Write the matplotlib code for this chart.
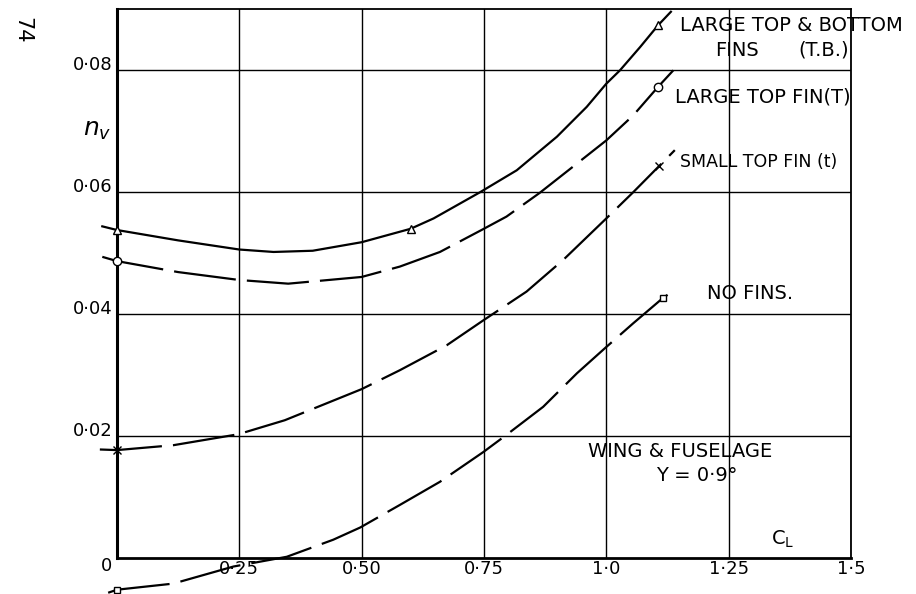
import numpy as np
import matplotlib
matplotlib.use("Agg")
import matplotlib.pyplot as plt

# curves: lift coefficient C_L vs n_v
cl_tb = [-0.03, 0.0, 0.125, 0.25, 0.32, 0.4, 0.5, 0.6, 0.647, 0.742, 0.817, 0.899, 0.96, 1.0, 1.028, 1.069, 1.106, 1.132]
nv_tb = [0.0544, 0.0538, 0.0521, 0.0506, 0.0502, 0.0504, 0.0518, 0.0540, 0.0557, 0.0600, 0.0636, 0.0691, 0.0740, 0.0778, 0.0800, 0.0838, 0.0874, 0.0896]

cl_tl = [-0.03, 0.0, 0.125, 0.25, 0.35, 0.5, 0.578, 0.66, 0.745, 0.796, 0.864, 0.94, 1.0, 1.055, 1.106, 1.137]
nv_tl = [0.0494, 0.0487, 0.0469, 0.0456, 0.0450, 0.0461, 0.0478, 0.0502, 0.0538, 0.0560, 0.0599, 0.0647, 0.0685, 0.0726, 0.0773, 0.0800]

cl_sf = [-0.035, 0.0, 0.115, 0.248, 0.343, 0.5, 0.578, 0.674, 0.749, 0.837, 0.912, 1.0, 1.055, 1.108, 1.14]
nv_sf = [0.0178, 0.0177, 0.0185, 0.0203, 0.0226, 0.0277, 0.0308, 0.0349, 0.0390, 0.0437, 0.0489, 0.0557, 0.0600, 0.0643, 0.0669]

cl_nf = [-0.018, 0.0, 0.115, 0.238, 0.347, 0.442, 0.497, 0.578, 0.66, 0.749, 0.796, 0.871, 0.94, 0.997, 1.055, 1.115, 1.14]
nv_nf = [-0.0057, -0.0052, -0.0042, -0.0014, 0.0002, 0.0030, 0.0050, 0.0087, 0.0125, 0.0174, 0.0202, 0.0248, 0.0303, 0.0344, 0.0385, 0.0426, 0.0440]

# measured points (markers)
pts_tb_cl = [0.0, 0.6, 1.106]
pts_tb_nv = [0.0538, 0.0540, 0.0874]
pts_tl_cl = [0.0, 1.106]
pts_tl_nv = [0.0487, 0.0773]
pts_sf_cl = [0.0, 1.108]
pts_sf_nv = [0.0177, 0.0643]
pts_nf_cl = [0.0, 1.115]
pts_nf_nv = [-0.0052, 0.0426]

x_ticks = [0.25, 0.5, 0.75, 1.0, 1.25, 1.5]
x_labels = ['0·25', '0·50', '0·75', '1·0', '1·25', '1·5']
y_ticks = [0.02, 0.04, 0.06, 0.08]
y_labels = ['0·02', '0·04', '0·06', '0·08']

DASH = (0, (28, 5))


#Func Name: draw_curve
#Purpose: one fin configuration, line plus its open markers
def draw_curve(ax, cl, nv, pcl, pnv, ls, marker, ms):
    ax.plot(cl, nv, color='black', lw=1.6, linestyle=ls, clip_on=False,
            solid_joinstyle='round', dash_joinstyle='round',
            dash_capstyle='butt', zorder=3)
    ax.plot(pcl, pnv, linestyle='none', marker=marker, ms=ms, mfc='white',
            mec='black', mew=1.0, clip_on=False, zorder=4)


def main():
    fig = plt.figure(figsize=(9.16, 5.94), dpi=100)
    ax = fig.add_axes([0.1277, 0.0606, 0.8013, 0.9237])
    ax.set_xlim(0, 1.5)
    ax.set_ylim(0, 0.09)

    ax.set_xticks(x_ticks, x_labels)
    ax.set_yticks(y_ticks, y_labels)
    ax.grid(True, color='black', lw=1.0)
    ax.set_axisbelow(True)
    ax.tick_params(length=0)
    ax.tick_params(axis='x', pad=1.5, labelsize=13)
    ax.tick_params(axis='y', pad=3, labelsize=13)
    plt.setp(ax.get_yticklabels(), va='baseline')

    ax.spines['left'].set_linewidth(2.2)
    ax.spines['bottom'].set_linewidth(2.0)
    ax.spines['top'].set_linewidth(1.3)
    ax.spines['right'].set_linewidth(1.3)

    draw_curve(ax, cl_tb, nv_tb, pts_tb_cl, pts_tb_nv, '-', '^', 6)
    draw_curve(ax, cl_tl, nv_tl, pts_tl_cl, pts_tl_nv, DASH, 'o', 6)
    draw_curve(ax, cl_sf, nv_sf, pts_sf_cl, pts_sf_nv, DASH, 'x', 6)
    draw_curve(ax, cl_nf, nv_nf, pts_nf_cl, pts_nf_nv, DASH, 's', 5)

    fs = 14
    ax.text(1.151, 0.0874, 'LARGE TOP & BOTTOM', fontsize=fs, va='center', clip_on=False)
    ax.text(1.222, 0.0833, 'FINS', fontsize=fs, va='center', clip_on=False)
    ax.text(1.392, 0.0833, '(T.B.)', fontsize=fs, va='center', clip_on=False)
    ax.text(1.140, 0.0756, 'LARGE TOP FIN(T)', fontsize=fs, va='center', clip_on=False)
    ax.text(1.151, 0.0649, 'SMALL TOP FIN (t)', fontsize=12.5, va='center', clip_on=False)
    ax.text(1.206, 0.0434, 'NO FINS.', fontsize=fs, va='center')
    ax.text(0.963, 0.0174, 'WING & FUSELAGE', fontsize=fs, va='center')
    ax.text(1.185, 0.0136, 'Y = 0·9°', fontsize=fs, va='center', ha='center')
    ax.text(1.36, 0.0030, r'C$_{\rm L}$', fontsize=fs, va='center', ha='center')

    # origin label and the rotated page number / y label
    fig.text(106 / 916, 1 - 566 / 594, '0', fontsize=13, ha='center', va='center')
    fig.text(22 / 916, 1 - 30 / 594, '74', fontsize=15, rotation=-90,
             ha='center', va='center')
    fig.text(97 / 916, 1 - 130 / 594, r'$n_{v}$', fontsize=18, ha='center', va='center')

    fig.savefig('out.png', dpi=100)


main()
